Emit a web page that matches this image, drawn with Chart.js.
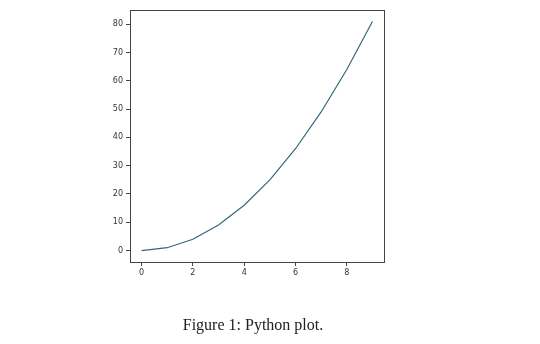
<!DOCTYPE html>
<html>
<head>
<meta charset="utf-8">
<script src="https://cdn.jsdelivr.net/npm/chart.js@4"></script>
<style>
  html, body { margin: 0; padding: 0; background: #fff; }
  #wrap { position: relative; width: 540px; height: 344px; }
  #caption {
    position: absolute; left: 0; width: 506px; top: 316px;
    text-align: center; font-family: "Liberation Serif", "DejaVu Serif", serif;
    font-size: 16px; color: #222;
  }
</style>
</head>
<body>
<div id="wrap">
  <canvas id="grafico" width="540" height="344"></canvas>
  <div id="caption">Figure 1: Python plot.</div>
</div>
<script>
// dados do gráfico
const xValores = [0, 1, 2, 3, 4, 5, 6, 7, 8, 9];
const yValores = [0, 1, 4, 9, 16, 25, 36, 49, 64, 81];
const xTicks = [0, 2, 4, 6, 8];
const yTicks = [0, 10, 20, 30, 40, 50, 60, 70, 80];

const moldura = {
  id: "moldura",
  afterDraw(chart) {
    const a = chart.chartArea;
    const ctx = chart.ctx;
    ctx.save();
    ctx.strokeStyle = "#444";
    ctx.lineWidth = 1;
    ctx.strokeRect(Math.round(a.left) + 0.5, Math.round(a.top) + 0.5,
      Math.round(a.right - a.left), Math.round(a.bottom - a.top));
    ctx.restore();
  }
};

const fonteTick = { family: "DejaVu Sans", size: 8 };

new Chart(document.getElementById("grafico"), {
  type: "line",
  data: {
    datasets: [{
      data: xValores.map((x, i) => ({ x: x, y: yValores[i] })),
      borderColor: "#346878",
      borderWidth: 1.2,
      pointRadius: 0,
      tension: 0,
      fill: false
    }]
  },
  options: {
    responsive: false,
    animation: false,
    events: [],
    layout: { padding: { left: 0, top: 10, right: 156, bottom: 62 } },
    plugins: { legend: { display: false }, tooltip: { enabled: false } },
    scales: {
      x: {
        type: "linear",
        min: -0.45,
        max: 9.45,
        afterBuildTicks: s => { s.ticks = xTicks.map(v => ({ value: v })); },
        afterFit: s => { s.height = 20; },
        grid: { display: true, drawOnChartArea: false, drawTicks: true, tickLength: 4, color: "#444" },
        border: { display: false },
        ticks: { font: fonteTick, color: "#333", padding: 2, maxRotation: 0 }
      },
      y: {
        type: "linear",
        min: -4.05,
        max: 85.05,
        afterBuildTicks: s => { s.ticks = yTicks.map(v => ({ value: v })); },
        afterFit: s => { s.width = 130; },
        grid: { display: true, drawOnChartArea: false, drawTicks: true, tickLength: 4, color: "#444" },
        border: { display: false },
        ticks: { font: fonteTick, color: "#333", padding: 3 }
      }
    }
  },
  plugins: [moldura]
});
</script>
</body>
</html>
